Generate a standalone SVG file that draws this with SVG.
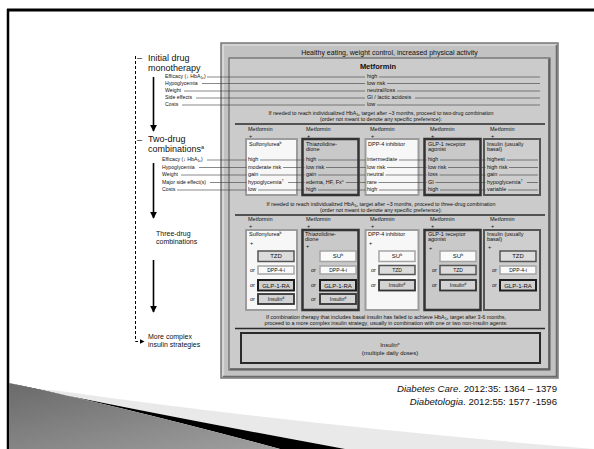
<svg xmlns="http://www.w3.org/2000/svg" width="594" height="449" viewBox="0 0 594 449">
<style>
 text{font-family:"Liberation Sans",Arial,sans-serif;fill:#111}
 .big{font-size:9px}
 .mid{font-size:7px}
 .sm{font-size:5.5px}
 .lb{font-size:5.2px}
 .ctr{text-anchor:middle}
 .lead{stroke:#3a3a3a;stroke-width:0.6;fill:none}
 .arr{stroke:#000;stroke-width:1.6;fill:none;marker-end:url(#ah)}
 .dash{stroke:#000;stroke-width:1;fill:none;stroke-dasharray:3 2;marker-end:url(#ah2)}
 .wbox{fill:#f7f7f7;stroke:#9c9c9c;stroke-width:2}
 .gbox{fill:#c9c9c9;stroke:#333;stroke-width:2.5}
 .ibox{fill:#cecece;stroke:#555;stroke-width:2}
 .bw{fill:#fafafa;stroke:#a5a5a5;stroke-width:1.5}
 .bt{fill:#dcdcdc;stroke:#555;stroke-width:1.5}
 .bg{fill:#d0d0d0;stroke:#1e1e1e;stroke-width:2}
 .bi{fill:#d3d3d3;stroke:#333;stroke-width:1.8}
 .bl{font-size:6px;text-anchor:middle}
 .bs{font-size:5px;text-anchor:middle}
 .sep{stroke:#2a2a2a;stroke-width:1.6}
</style>
<defs>
 <marker id="ah" viewBox="0 0 10 10" refX="9" refY="5" markerWidth="4.5" markerHeight="4.5" orient="auto"><path d="M0,0 L10,5 L0,10 z" fill="#000"/></marker>
 <marker id="ah2" viewBox="0 0 10 10" refX="9" refY="5" markerWidth="5" markerHeight="5" orient="auto"><path d="M0,0 L10,5 L0,10 z" fill="#000"/></marker>
 <linearGradient id="gg" x1="0" y1="0" x2="1" y2="1">
  <stop offset="0" stop-color="#6a6a6a"/>
  <stop offset="1" stop-color="#a0a0a0"/>
 </linearGradient>
</defs>

<rect x="0" y="0" width="594" height="449" fill="#fff"/>

<g id="slide-frame">
 <line x1="7" y1="10" x2="594" y2="10" stroke="#000" stroke-width="3"/>
 <line x1="8" y1="9" x2="8" y2="449" stroke="#000" stroke-width="2.5"/>
</g>

<g id="slide-decor">
 <path d="M60,391 Q300,425 594,449 L345,449 Q160,415 30,388 Z" fill="#e9e9e9"/>
 <path d="M30,388 Q160,415 345,449 L280,449 Q120,406 9,383 Z" fill="#000"/>
 <path d="M9,383 Q120,406 280,449 L9,449 Z" fill="url(#gg)"/>
</g>

<g id="figure-frame">
 <rect x="221" y="43" width="337" height="335" fill="#c2c2c2" stroke="#7a7a7a" stroke-width="1.5"/>
 <path d="M223,376 V45 H556" fill="none" stroke="#e4e4e4" stroke-width="1.2"/>
 <path d="M223,376.5 H556.5 V45" fill="none" stroke="#6a6a6a" stroke-width="1.5"/>
 <rect x="229" y="58" width="321" height="312" fill="#cbcbcb" stroke="#666" stroke-width="1.2"/>
 <path d="M230,369 H549 V59" fill="none" stroke="#555" stroke-width="1.6"/>
 <line class="sep" x1="235" y1="124" x2="545" y2="124"/>
 <line class="sep" x1="235" y1="215" x2="545" y2="215"/>
 <line class="sep" x1="235" y1="328.5" x2="545" y2="328.5"/>
</g>

<g id="stage-labels">
 <text class="big" x="137" y="61">–</text>
 <text class="big" x="148" y="60.5">Initial drug</text>
 <text class="big" x="148" y="70.5">monotherapy</text>
 <text class="lb" x="165" y="78">Efficacy (↓ HbA<tspan font-size="3.5" dy="1">1c</tspan><tspan dy="-1">)</tspan></text>
 <text class="lb" x="165" y="84.5">Hypoglycemia</text>
 <text class="lb" x="165" y="92">Weight</text>
 <text class="lb" x="165" y="99">Side effects</text>
 <text class="lb" x="165" y="106">Costs</text>
 <text class="big" x="137" y="143">–</text>
 <text class="big" x="148" y="142">Two-drug</text>
 <text class="big" x="148" y="151.5">combinations<tspan font-size="5.5" dy="-3">a</tspan></text>
 <text class="lb" x="162" y="161">Efficacy (↓ HbA<tspan font-size="3.5" dy="1">1c</tspan><tspan dy="-1">)</tspan></text>
 <text class="lb" x="162" y="168.5">Hypoglycemia</text>
 <text class="lb" x="162" y="176">Weight</text>
 <text class="lb" x="162" y="183.5">Major side effect(s)</text>
 <text class="lb" x="162" y="191">Costs</text>
 <text class="mid" x="156" y="235.5">Three-drug</text>
 <text class="mid" x="156" y="243.5">combinations</text>
 <text class="mid" x="148" y="339">More complex</text>
 <text class="mid" x="148" y="347">insulin strategies</text>
</g>

<g id="lifestyle">
 <text class="ctr" x="389.5" y="54.5" font-size="7">Healthy eating, weight control, increased physical activity</text>
</g>

<g id="metformin">
 <text class="ctr" x="378" y="68.5" font-size="7.5" font-weight="bold">Metformin</text>
 <text class="sm" x="367" y="78">high</text>
 <text class="sm" x="367" y="84.5">low risk</text>
 <text class="sm" x="367" y="92">neutral/loss</text>
 <text class="sm" x="367" y="99">GI / lactic acidosis</text>
 <text class="sm" x="367" y="106">low</text>
 <text class="ctr" x="381" y="114.5" font-size="5.3">If needed to reach individualized HbA<tspan font-size="3.5" dy="1">1c</tspan><tspan dy="-1"> target after ~3 months, proceed to two-drug combination</tspan></text>
 <text class="ctr" x="381" y="121" font-size="5.3">(order not meant to denote any specific preference):</text>
</g>

<g id="two-su">
 <text class="sm" x="248" y="131">Metformin</text><text class="sm" x="249" y="137.5">+</text>
 <rect class="wbox" x="246" y="139" width="51" height="56"/>
 <text class="sm" x="249" y="145.5">Sulfonylurea<tspan font-size="3.6" dy="-2">b</tspan></text>
 <text class="sm" x="248" y="161">high</text>
 <text class="sm" x="248" y="168.5">moderate risk</text>
 <text class="sm" x="248" y="176">gain</text>
 <text class="sm" x="248" y="183.5">hypoglycemia<tspan font-size="3.6" dy="-2">†</tspan></text>
 <text class="sm" x="248" y="191">low</text>
</g>
<g id="two-tzd">
 <text class="sm" x="306" y="131">Metformin</text><text class="sm" x="307" y="137.5">+</text>
 <rect class="gbox" x="302.5" y="139" width="56" height="56"/>
 <text class="sm" x="306" y="145.5">Thiazolidine-</text>
 <text class="sm" x="306" y="151">dione</text>
 <text class="sm" x="306" y="161">high</text>
 <text class="sm" x="306" y="168.5">low risk</text>
 <text class="sm" x="306" y="176">gain</text>
 <text class="sm" x="306" y="183.5">edema, HF, Fx<tspan font-size="3.6" dy="-2">s</tspan></text>
 <text class="sm" x="306" y="191">high</text>
</g>
<g id="two-dpp4">
 <text class="sm" x="370" y="131">Metformin</text><text class="sm" x="371" y="137.5">+</text>
 <rect class="wbox" x="365.5" y="139" width="53" height="56"/>
 <text class="sm" x="368" y="145.5">DPP-4 inhibitor</text>
 <text class="sm" x="367" y="161">intermediate</text>
 <text class="sm" x="367" y="168.5">low risk</text>
 <text class="sm" x="367" y="176">neutral</text>
 <text class="sm" x="367" y="183.5">rare</text>
 <text class="sm" x="367" y="191">high</text>
</g>
<g id="two-glp1">
 <text class="sm" x="430" y="131">Metformin</text><text class="sm" x="431" y="137.5">+</text>
 <rect class="gbox" x="424.5" y="139" width="56" height="56"/>
 <text class="sm" x="428" y="145.5">GLP-1 receptor</text>
 <text class="sm" x="428" y="151">agonist</text>
 <text class="sm" x="428" y="161">high</text>
 <text class="sm" x="428" y="168.5">low risk</text>
 <text class="sm" x="428" y="176">loss</text>
 <text class="sm" x="428" y="183.5">GI</text>
 <text class="sm" x="428" y="191">high</text>
</g>
<g id="two-insulin">
 <text class="sm" x="490" y="131">Metformin</text><text class="sm" x="491" y="137.5">+</text>
 <rect class="ibox" x="484" y="139" width="56" height="56"/>
 <text class="sm" x="487" y="145.5">Insulin (usually</text>
 <text class="sm" x="487" y="151">basal)</text>
 <text class="sm" x="487" y="161">highest</text>
 <text class="sm" x="487" y="168.5">high risk</text>
 <text class="sm" x="487" y="176">gain</text>
 <text class="sm" x="487" y="183.5">hypoglycemia<tspan font-size="3.6" dy="-2">†</tspan></text>
 <text class="sm" x="487" y="191">variable</text>
</g>

<g id="three-intro">
 <text class="ctr" x="381" y="205.5" font-size="5.3">If needed to reach individualized HbA<tspan font-size="3.5" dy="1">1c</tspan><tspan dy="-1"> target after ~3 months, proceed to three-drug combination</tspan></text>
 <text class="ctr" x="381" y="212" font-size="5.3">(order not meant to denote any specific preference):</text>
</g>

<g id="three-su">
 <text class="sm" x="248" y="221">Metformin</text><text class="sm" x="249" y="227.5">+</text>
 <rect class="wbox" x="246" y="230" width="51" height="80"/>
 <text class="sm" x="249" y="235.5">Sulfonylurea<tspan font-size="3.6" dy="-2">b</tspan></text>
 <text class="sm" x="250" y="245">+</text>
 <rect class="bt" x="258" y="251" width="36" height="10.5"/><text class="bl" x="276" y="258.3">TZD</text>
 <text class="sm" x="250" y="272">or</text>
 <rect class="bw" x="258" y="266" width="36" height="8"/><text class="bs" x="276" y="271.8">DPP-4-i</text>
 <text class="sm" x="250" y="287.3">or</text>
 <rect class="bg" x="258" y="280" width="36" height="10.5"/><text class="bl" x="276" y="287.5">GLP-1-RA</text>
 <text class="sm" x="250" y="301">or</text>
 <rect class="bi" x="258" y="294" width="36" height="10"/><text class="bs" x="276" y="301">Insulin<tspan font-size="3.5" dy="-2">d</tspan></text>
</g>
<g id="three-tzd">
 <text class="sm" x="306" y="221">Metformin</text><text class="sm" x="307" y="227.5">+</text>
 <rect class="gbox" x="302.5" y="230" width="56" height="80"/>
 <text class="sm" x="305" y="235.5">Thiazolidine-</text>
 <text class="sm" x="305" y="241">dione</text>
 <text class="sm" x="306" y="247.5">+</text>
 <rect class="bw" x="320" y="251" width="36" height="10.5"/><text class="bl" x="338" y="258.3">SU<tspan font-size="3.6" dy="-2">b</tspan></text>
 <text class="sm" x="311" y="272">or</text>
 <rect class="bw" x="320" y="266" width="36" height="8"/><text class="bs" x="338" y="271.8">DPP-4-i</text>
 <text class="sm" x="311" y="287.3">or</text>
 <rect class="bg" x="320" y="280" width="36" height="10.5"/><text class="bl" x="338" y="287.5">GLP-1-RA</text>
 <text class="sm" x="311" y="301">or</text>
 <rect class="bi" x="320" y="294" width="36" height="10"/><text class="bs" x="338" y="301">Insulin<tspan font-size="3.5" dy="-2">d</tspan></text>
</g>
<g id="three-dpp4">
 <text class="sm" x="370" y="221">Metformin</text><text class="sm" x="371" y="227.5">+</text>
 <rect class="wbox" x="365.5" y="230" width="53" height="80"/>
 <text class="sm" x="368" y="235.5">DPP-4 inhibitor</text>
 <text class="sm" x="369" y="245">+</text>
 <rect class="bw" x="379" y="251" width="36" height="10.5"/><text class="bl" x="397" y="258.3">SU<tspan font-size="3.6" dy="-2">b</tspan></text>
 <text class="sm" x="371" y="272">or</text>
 <rect class="bt" x="379" y="265.5" width="36" height="9"/><text class="bs" x="397" y="271.8">TZD</text>
 <text class="sm" x="371" y="287.3">or</text>
 <rect class="bi" x="379" y="280" width="36" height="10.5"/><text class="bs" x="397" y="287.3">Insulin<tspan font-size="3.5" dy="-2">d</tspan></text>
</g>
<g id="three-glp1">
 <text class="sm" x="430" y="221">Metformin</text><text class="sm" x="431" y="227.5">+</text>
 <rect class="gbox" x="424.5" y="230" width="56" height="80"/>
 <text class="sm" x="428" y="235.5">GLP-1 receptor</text>
 <text class="sm" x="428" y="241">agonist</text>
 <text class="sm" x="429" y="249.5">+</text>
 <rect class="bw" x="440" y="251" width="36" height="10.5"/><text class="bl" x="458" y="258.3">SU<tspan font-size="3.6" dy="-2">b</tspan></text>
 <text class="sm" x="432" y="272">or</text>
 <rect class="bt" x="440" y="265.5" width="36" height="9"/><text class="bs" x="458" y="271.8">TZD</text>
 <text class="sm" x="432" y="287.3">or</text>
 <rect class="bi" x="440" y="280" width="36" height="10.5"/><text class="bs" x="458" y="287.3">Insulin<tspan font-size="3.5" dy="-2">d</tspan></text>
</g>
<g id="three-insulin">
 <text class="sm" x="490" y="221">Metformin</text><text class="sm" x="491" y="227.5">+</text>
 <rect class="ibox" x="484" y="230" width="56" height="80"/>
 <text class="sm" x="487" y="235.5">Insulin (usually</text>
 <text class="sm" x="487" y="241">basal)</text>
 <text class="sm" x="488" y="249">+</text>
 <rect class="bt" x="500" y="251" width="36" height="10.5"/><text class="bl" x="518" y="258.3">TZD</text>
 <text class="sm" x="492" y="272">or</text>
 <rect class="bw" x="500" y="266" width="36" height="8"/><text class="bs" x="518" y="271.8">DPP-4-i</text>
 <text class="sm" x="492" y="287.3">or</text>
 <rect class="bg" x="500" y="280" width="36" height="10.5"/><text class="bl" x="518" y="287.5">GLP-1-RA</text>
</g>

<g id="insulin-intro">
 <text class="ctr" x="386" y="319" font-size="5.4">If combination therapy that includes basal insulin has failed to achieve HbA<tspan font-size="3.5" dy="1">1c</tspan><tspan dy="-1"> target after 3-6 months,</tspan></text>
 <text class="ctr" x="386" y="325" font-size="5.4">proceed to a more complex insulin strategy, usually in combination with one or two non-insulin agents:</text>
</g>

<g id="insulin-complex">
 <rect x="241" y="333" width="299" height="30" fill="#cbcbcb" stroke="#2a2a2a" stroke-width="2"/>
 <text class="ctr" x="390" y="347" font-size="6">Insulin<tspan font-size="4" dy="-2">e</tspan></text>
 <text class="ctr" x="390" y="355" font-size="6">(multiple daily doses)</text>
</g>

<g id="citation">
 <text x="557" y="391.5" font-size="9.6" text-anchor="end"><tspan font-style="italic">Diabetes Care</tspan>. 2012:35: 1364 – 1379</text>
 <text x="557" y="405" font-size="9.6" text-anchor="end"><tspan font-style="italic">Diabetologia</tspan>. 2012:55: 1577 -1596</text>
</g>

<g id="connectors">
 <line class="arr" x1="153.5" y1="77" x2="153.5" y2="131"/>
 <line class="arr" x1="153.5" y1="163" x2="153.5" y2="218"/>
 <line class="arr" x1="153.5" y1="260" x2="153.5" y2="312"/>
 <path class="dash" d="M135.5,56 V341.5 H144"/>
 <path class="lead" d="M207,77 H365 M379,77 H540 M202,83.5 H365 M387,83.5 H540 M184,91 H365 M397,91 H540 M196,98 H365 M415,98 H540 M182,105 H365 M377,105 H540"/>
 <path class="lead" d="M207,160 H246.5 M260,160 H304.5 M318,160 H365.5 M399,160 H426.5 M440,160 H485.5 M506.5,160 H538"/>
 <path class="lead" d="M199,167.5 H246.5 M283,167.5 H304.5 M326,167.5 H365.5 M387,167.5 H426.5 M448,167.5 H485.5 M509,167.5 H538"/>
 <path class="lead" d="M181,175 H246.5 M260,175 H304.5 M318,175 H365.5 M385.5,175 H426.5 M439.5,175 H485.5 M499,175 H538"/>
 <path class="lead" d="M210,182.5 H246.5 M288,182.5 H304.5 M346,182.5 H365.5 M378.5,182.5 H426.5 M435.5,182.5 H485.5 M527,182.5 H538"/>
 <path class="lead" d="M177,190 H246.5 M258,190 H304.5 M318,190 H365.5 M379,190 H426.5 M440,190 H485.5 M508,190 H538"/>
</g>
</svg>
